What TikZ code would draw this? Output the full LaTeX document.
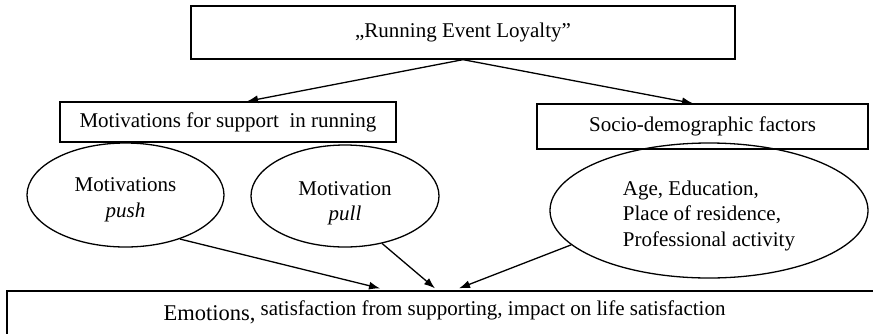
\documentclass[tikz,border=0pt]{standalone}
\usepackage{fontspec}
\setmainfont{Liberation Serif}
\usetikzlibrary{shapes.geometric,arrows.meta}
\newcommand{\lowertext}[2]{\raisebox{-#1}[\height][\depth]{#2}}
\begin{document}
\begin{tikzpicture}[x=1pt,y=-1pt,
  every node/.style={font=\fontsize{21}{25.5}\selectfont, inner sep=0pt},
  box/.style={draw, rectangle, line width=1.3pt},
  ell/.style={draw, ellipse, line width=1.3pt},
  arr/.style={line width=1.3pt, -{Latex[length=11pt,width=8pt]}}]
\useasboundingbox (0,0) rectangle (873,333);
\node[box, minimum width=544pt, minimum height=53pt] (top) at (463,32.5) {„Running Event Loyalty”};
\node[box, minimum width=336pt, minimum height=40pt] (mot) at (228,122) {Motivations for support\ \ in running};
\node[box, minimum width=331pt, minimum height=45pt] (soc) at (702.5,126.5) {Socio-demographic factors};
\node[ell, minimum width=197pt, minimum height=104pt] (push) at (125.5,195) {\lowertext{4.5pt}{\begin{tabular}{@{}c@{}}Motivations\\\textit{push}\end{tabular}}};
\node[ell, minimum width=188pt, minimum height=102pt] (pull) at (345,196) {\lowertext{7pt}{\begin{tabular}{@{}c@{}}Motivation\\\textit{pull}\end{tabular}}};
\node[ell, minimum width=318pt, minimum height=135pt] (socell) at (709,210.5) {\lowertext{5pt}{\begin{tabular}{@{}l@{}}Age, Education,\\Place of residence,\\Professional activity\end{tabular}}};
\node[box, minimum width=873pt, minimum height=56pt] (bottom) at (443.5,319) {};
\node (btext) at (444.5,312) {{\fontsize{22.5}{25}\selectfont Emotions,} \raisebox{5pt}{satisfaction from supporting, impact on life satisfaction}};
\draw[arr] (top.south) -- ([xshift=19pt]mot.north);
\draw[arr] (top.south) -- ([xshift=-9.5pt]soc.north);
\draw[arr] (push.-39) -- ([xshift=-63.5pt,yshift=2pt]bottom.north);
\draw[arr] (pull.-52) -- ([xshift=-8.5pt,yshift=2pt]bottom.north);
\draw[arr] (socell.194.6) -- ([xshift=15.5pt,yshift=2pt]bottom.north);
\end{tikzpicture}
\end{document}
